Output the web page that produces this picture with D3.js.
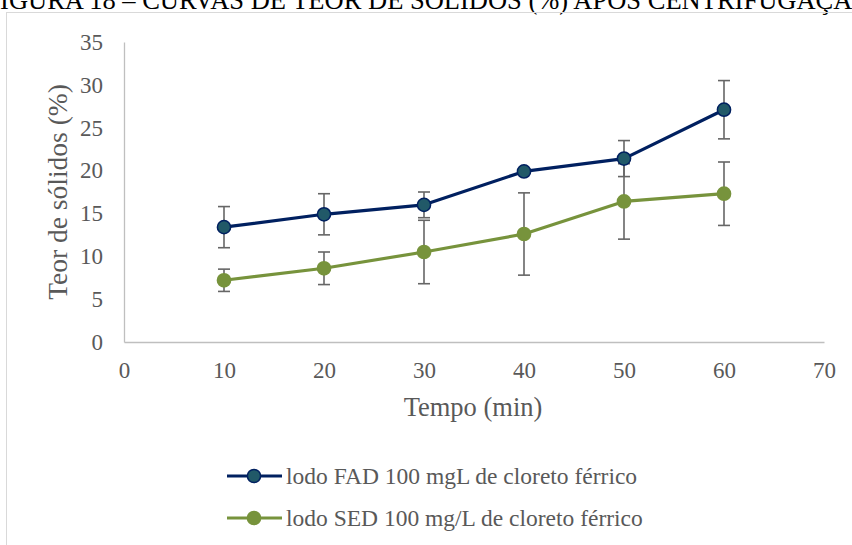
<!DOCTYPE html>
<html>
<head>
<meta charset="utf-8">
<script src="https://cdn.jsdelivr.net/npm/d3@7"></script>
<style>
  html, body { margin: 0; padding: 0; background: #fff; overflow: hidden; }
  svg { display: block; }
</style>
</head>
<body>
<svg id="chart" width="852" height="545"></svg>
<script>
// Tempo de centrifugação (min)
const tempo = [10, 20, 30, 40, 50, 60];
// Teor de sólidos (%) e desvios
const fadValores = [13.4, 14.9, 16.0, 19.9, 21.4, 27.1];
const fadDesvio  = [2.4, 2.4, 1.5, 0, 2.1, 3.4];
const sedValores = [7.2, 8.6, 10.5, 12.6, 16.4, 17.3];
const sedDesvio  = [1.3, 1.9, 3.7, 4.8, 4.4, 3.7];
// Eixos
const xTicks = [0, 10, 20, 30, 40, 50, 60, 70];
const yTicks = [0, 5, 10, 15, 20, 25, 30, 35];
const legendas = ["lodo FAD 100 mgL de cloreto férrico", "lodo SED 100 mg/L de cloreto férrico"];
const titulo = "FIGURA 18 – CURVAS DE TEOR DE SÓLIDOS (%) APÓS CENTRIFUGAÇÃO";

const serif = "'Liberation Serif', 'Times New Roman', serif";
const svg = d3.select("#chart");

// título da figura (parcialmente cortado no topo)
svg.append("text")
  .attr("x", -14.7).attr("y", 8.5)
  .attr("font-family", serif).attr("font-size", 26.5)
  .attr("fill", "#000")
  .text(titulo);

// moldura da área do gráfico
svg.append("rect")
  .attr("x", 6.5).attr("y", 12.5)
  .attr("width", 900).attr("height", 600)
  .attr("fill", "none").attr("stroke", "#d9d9d9").attr("stroke-width", 1);

const x = d3.scaleLinear().domain([0, 70]).range([124, 824]);
const y = d3.scaleLinear().domain([0, 35]).range([342, 42]);

const axisColor = "#bfbfbf";
const textColor = "#595959";

const gx = svg.append("g").attr("transform", `translate(0,${y(0)})`)
  .call(d3.axisBottom(x).tickValues(xTicks).tickSize(0).tickPadding(19.5).tickFormat(d3.format("d")));
const gy = svg.append("g").attr("transform", `translate(${x(0)},0)`)
  .call(d3.axisLeft(y).tickValues(yTicks).tickSize(0).tickPadding(21).tickFormat(d3.format("d")));

[gx, gy].forEach(g => {
  g.select(".domain").attr("stroke", axisColor).attr("stroke-width", 1.3);
  g.selectAll("text").attr("font-family", serif).attr("font-size", 23).attr("fill", textColor);
});

// títulos dos eixos
svg.append("text")
  .attr("x", (x(0) + x(70)) / 2 - 1).attr("y", 416)
  .attr("text-anchor", "middle")
  .attr("font-family", serif).attr("font-size", 26.5).attr("fill", textColor)
  .text("Tempo (min)");
svg.append("text")
  .attr("transform", `translate(67,${(y(0) + y(35)) / 2}) rotate(-90)`)
  .attr("text-anchor", "middle")
  .attr("font-family", serif).attr("font-size", 27.5).attr("fill", textColor)
  .text("Teor de sólidos (%)");

const series = [
  { valores: fadValores, desvio: fadDesvio, linha: "#002060", preenche: "#215968", borda: "#002060" },
  { valores: sedValores, desvio: sedDesvio, linha: "#77933C", preenche: "#77933C", borda: "#77933C" }
];

const line = d3.line().x(d => x(d.t)).y(d => y(d.v));
const errColor = "#666666";
const cap = 6;

series.forEach(s => {
  const pts = tempo.map((t, i) => ({ t, v: s.valores[i], e: s.desvio[i] }));
  svg.append("path").datum(pts)
    .attr("d", line).attr("fill", "none")
    .attr("stroke", s.linha).attr("stroke-width", 3.2).attr("stroke-linejoin", "round");
});

// barras de erro
series.forEach(s => {
  const pts = tempo.map((t, i) => ({ t, v: s.valores[i], e: s.desvio[i] })).filter(d => d.e > 0);
  const g = svg.append("g").attr("stroke", errColor).attr("stroke-width", 1.6).attr("fill", "none");
  pts.forEach(d => {
    const cx = x(d.t);
    g.append("line").attr("x1", cx).attr("x2", cx).attr("y1", y(d.v - d.e)).attr("y2", y(d.v + d.e));
    g.append("line").attr("x1", cx - cap).attr("x2", cx + cap).attr("y1", y(d.v + d.e)).attr("y2", y(d.v + d.e));
    g.append("line").attr("x1", cx - cap).attr("x2", cx + cap).attr("y1", y(d.v - d.e)).attr("y2", y(d.v - d.e));
  });
});

// marcadores
series.forEach(s => {
  const pts = tempo.map((t, i) => ({ t, v: s.valores[i] }));
  svg.append("g").selectAll("circle").data(pts).join("circle")
    .attr("cx", d => x(d.t)).attr("cy", d => y(d.v)).attr("r", 6.6)
    .attr("fill", s.preenche).attr("stroke", s.borda).attr("stroke-width", 1.5);
});

// legenda
const legY = [476, 518];
series.forEach((s, i) => {
  const g = svg.append("g").attr("transform", `translate(0,${legY[i]})`);
  g.append("line").attr("x1", 227).attr("x2", 282).attr("y1", 0).attr("y2", 0)
    .attr("stroke", s.linha).attr("stroke-width", 3.2);
  g.append("circle").attr("cx", 254).attr("cy", 0).attr("r", 6.6)
    .attr("fill", s.preenche).attr("stroke", s.borda).attr("stroke-width", 1.5);
  g.append("text").attr("x", 286).attr("y", 0).attr("dy", "0.33em")
    .attr("font-family", serif).attr("font-size", 23.5).attr("fill", textColor)
    .text(legendas[i]);
});
</script>
</body>
</html>
